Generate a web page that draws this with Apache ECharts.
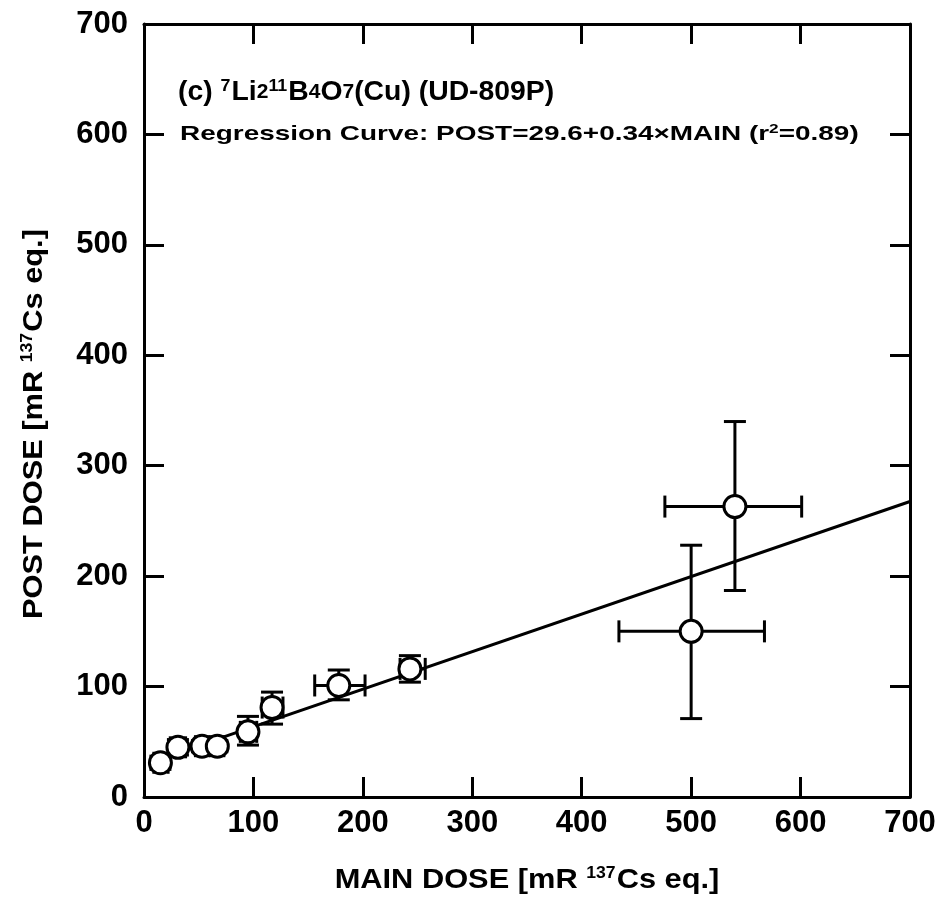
<!DOCTYPE html>
<html>
<head>
<meta charset="utf-8">
<script src="https://cdn.jsdelivr.net/npm/echarts@6/dist/echarts.min.js"></script>
<style>
  html, body { margin: 0; padding: 0; background: #fff; }
  #chart { width: 942px; height: 910px; }
</style>
</head>
<body>
<div id="chart"></div>
<script>
// Measured doses (mR 137Cs eq.) with error ranges
const mainDose = [15, 31, 53, 67, 95, 117, 178, 243, 500, 540];
const postDose = [31, 45, 46, 46, 59, 81, 101, 116, 150, 263];
const mainLo   = [9, 24, 47, 61, 88, 108, 156, 234, 434, 476];
const mainHi   = [22, 38, 59, 73, 103, 127, 202, 257, 567, 601];
const postLo   = [25, 38, 41, 41, 47, 66, 88, 104, 71, 187];
const postHi   = [37, 52, 51, 51, 73, 95, 115, 128, 228, 340];

// Regression curve POST = a + b * MAIN
const regIntercept = 29.6;
const regSlope = 0.34;
const regRange = [15, 700];

const axisTicks = [0, 100, 200, 300, 400, 500, 600, 700];

const FONT = '"Liberation Sans", Arial, sans-serif';

const pointData = mainDose.map((x, i) => [x, postDose[i]]);
const errData = mainDose.map((x, i) => [x, postDose[i], mainLo[i], mainHi[i], postLo[i], postHi[i]]);
const regData = regRange.map(x => [x, regIntercept + regSlope * x]);

function renderErr(params, api) {
  const x = api.value(0), y = api.value(1);
  const c = api.coord([x, y]);
  const xl = api.coord([api.value(2), y]);
  const xh = api.coord([api.value(3), y]);
  const yl = api.coord([x, api.value(4)]);
  const yh = api.coord([x, api.value(5)]);
  const cap = 11;
  const st = { stroke: '#000', lineWidth: 3 };
  const line = (x1, y1, x2, y2) => ({ type: 'line', shape: { x1, y1, x2, y2 }, style: st });
  return {
    type: 'group',
    children: [
      line(xl[0], c[1], xh[0], c[1]),
      line(xl[0], c[1] - cap, xl[0], c[1] + cap),
      line(xh[0], c[1] - cap, xh[0], c[1] + cap),
      line(c[0], yl[1], c[0], yh[1]),
      line(c[0] - cap, yl[1], c[0] + cap, yl[1]),
      line(c[0] - cap, yh[1], c[0] + cap, yh[1])
    ]
  };
}

const axisCommon = {
  type: 'value',
  min: axisTicks[0],
  max: axisTicks[axisTicks.length - 1],
  interval: 100,
  splitLine: { show: false },
  axisLine: { show: true, onZero: false, lineStyle: { color: '#000', width: 3 } },
  axisTick: { show: true, inside: true, length: 20, lineStyle: { color: '#000', width: 3 } }
};
const labelStyle = { color: '#000', fontFamily: FONT, fontWeight: 'bold', fontSize: 31 };

const chart = echarts.init(document.getElementById('chart'), null, { renderer: 'canvas' });
chart.setOption({
  backgroundColor: '#fff',
  animation: false,
  grid: { left: 144, right: 32, top: 24, bottom: 113 },
  xAxis: [
    Object.assign({}, axisCommon, {
      position: 'bottom',
      axisLabel: Object.assign({ margin: 11 }, labelStyle)
    }),
    Object.assign({}, axisCommon, { position: 'top', axisLabel: { show: false } })
  ],
  yAxis: [
    Object.assign({}, axisCommon, {
      position: 'left',
      axisLabel: Object.assign({ margin: 16 }, labelStyle)
    }),
    Object.assign({}, axisCommon, { position: 'right', axisLabel: { show: false } })
  ],
  graphic: [
    {
      type: 'text', x: 527, y: 866, scaleX: 1.1,
      style: {
        text: 'MAIN DOSE [mR {sup|137}Cs eq.]',
        font: 'bold 28px ' + FONT, fill: '#000', align: 'center', verticalAlign: 'top',
        rich: { sup: { font: 'bold 16px ' + FONT, fill: '#000', padding: [0, 1, 12, 0] } }
      }
    },
    {
      type: 'text', x: 20, y: 424, rotation: Math.PI / 2, scaleX: 1.1,
      style: {
        text: 'POST DOSE [mR {sup|137}Cs eq.]',
        font: 'bold 28px ' + FONT, fill: '#000', align: 'center', verticalAlign: 'top',
        rich: { sup: { font: 'bold 16px ' + FONT, fill: '#000', padding: [0, 1, 12, 0] } }
      }
    },
    {
      type: 'text', x: 178, y: 78, scaleX: 1.05,
      style: {
        text: '(c) {sup|7}Li{sub|2}{sup|11}B{sub|4}O{sub|7}(Cu) (UD-809P)',
        font: 'bold 27px ' + FONT, fill: '#000',
        rich: {
          sup: { font: 'bold 17px ' + FONT, fill: '#000', padding: [0, 1, 12, 0] },
          sub: { font: 'bold 20px ' + FONT, fill: '#000' }
        }
      }
    },
    {
      type: 'text', x: 180, y: 123, scaleX: 1.33,
      style: {
        text: 'Regression Curve: POST=29.6+0.34\u00d7MAIN (r{sup|2}=0.89)',
        font: 'bold 21px ' + FONT, fill: '#000',
        rich: { sup: { font: 'bold 13px ' + FONT, fill: '#000', padding: [0, 0, 9, 0] } }
      }
    }
  ],
  series: [
    {
      type: 'line', data: regData, symbol: 'none', silent: true, z: 2,
      lineStyle: { color: '#000', width: 3 }
    },
    {
      type: 'custom', data: errData, renderItem: renderErr, z: 3, silent: true
    },
    {
      type: 'scatter', data: pointData, symbol: 'circle', symbolSize: 22, z: 4,
      itemStyle: { color: '#fff', borderColor: '#000', borderWidth: 3, opacity: 1 }
    }
  ]
});
</script>
</body>
</html>
